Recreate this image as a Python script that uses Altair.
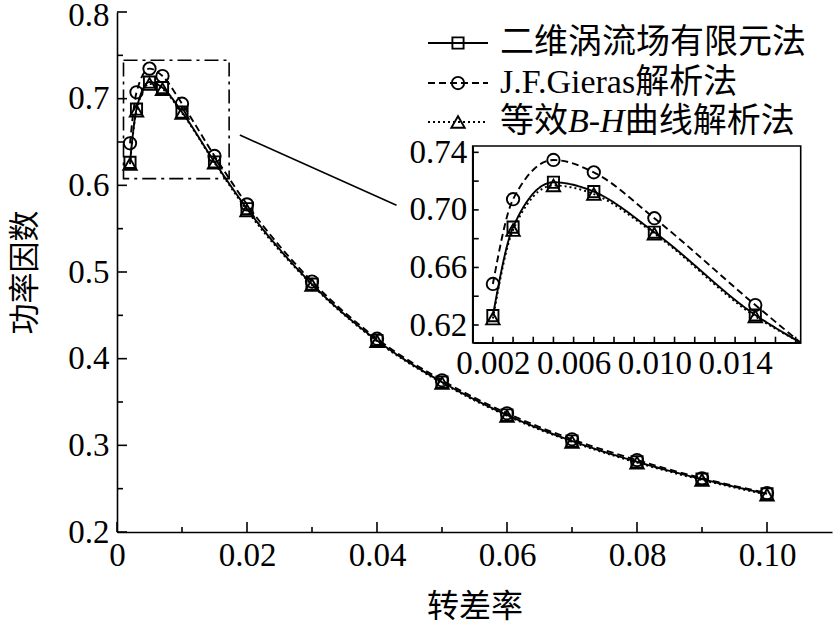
import altair as alt
import pandas as pd

# ---------------- data ----------------
slip = [0.002, 0.003, 0.005, 0.007, 0.010, 0.015, 0.02, 0.03, 0.04, 0.05, 0.06, 0.07, 0.08, 0.09, 0.10]
pf_fem = [0.6265, 0.688, 0.7192, 0.7127, 0.6845, 0.627, 0.573, 0.486, 0.421, 0.373, 0.335, 0.305, 0.281, 0.261, 0.244]
pf_gieras = [0.6485, 0.7074, 0.7347, 0.7261, 0.6942, 0.6339, 0.578, 0.489, 0.423, 0.375, 0.337, 0.307, 0.283, 0.262, 0.245]
pf_bh = [0.6245, 0.686, 0.717, 0.711, 0.6835, 0.626, 0.571, 0.485, 0.420, 0.372, 0.334, 0.304, 0.280, 0.260, 0.243]
series_names = ["二维涡流场有限元法", "J.F.Gieras解析法", "等效B-H曲线解析法"]

x_title = "转差率"
y_title = "功率因数"

main_x_domain = [0, 0.11]
main_y_domain = [0.2, 0.8]
main_x_major = [0, 0.02, 0.04, 0.06, 0.08, 0.10]
main_x_minor = [0.01, 0.03, 0.05, 0.07, 0.09]
main_y_major = [0.2, 0.3, 0.4, 0.5, 0.6, 0.7, 0.8]
main_y_minor = [0.25, 0.35, 0.45, 0.55, 0.65, 0.75]

inset_x_domain = [0.001, 0.01725]
inset_y_domain = [0.6077, 0.7444]
inset_x_labels = [0.002, 0.006, 0.010, 0.014]
inset_x_ticks = [0.002, 0.003, 0.004, 0.005, 0.006, 0.007, 0.008, 0.009, 0.010,
                 0.011, 0.012, 0.013, 0.014, 0.015, 0.016, 0.017]
inset_y_labels = [0.62, 0.66, 0.70, 0.74]
inset_y_ticks = [0.62, 0.64, 0.66, 0.68, 0.70, 0.72, 0.74]
inset_slip_limit = 0.02

connector_x = [0.0189, 0.0430]
connector_y = [0.658, 0.577]

# ---------------- layout / style ----------------
W, H = 715, 520
INSET_X = [355.7, 683.7]
INSET_Y = [330.7, 134.0]
FONT = "Liberation Serif, Noto Sans CJK SC"
LBL = 33
LEG = 34

rows = []
for name, vals in zip(series_names, [pf_fem, pf_gieras, pf_bh]):
    for s, v in zip(slip, vals):
        rows.append({"slip": s, "pf": v, "series": name})
df = pd.DataFrame(rows)

dash_scale = alt.Scale(domain=series_names, range=[[1, 0], [7, 4], [2, 3]])
shape_scale = alt.Scale(domain=series_names, range=["square", "circle", "triangle-up"])
size_scale = alt.Scale(domain=series_names, range=[125, 180, 150])


def mx():
    return alt.Scale(domain=main_x_domain, range=[0, W], nice=False, zero=False)


def my():
    return alt.Scale(domain=main_y_domain, range=[H, 0], nice=False, zero=False)


def ix():
    return alt.Scale(domain=inset_x_domain, range=INSET_X, nice=False, zero=False, clamp=True)


def iy():
    return alt.Scale(domain=inset_y_domain, range=INSET_Y, nice=False, zero=False, clamp=True)


axis_common = dict(ticks=False, grid=False, domainColor="black", domainWidth=1.6,
                   labelFont=FONT, labelFontSize=LBL, labelColor="black",
                   labelFlush=False, labelOverlap=False)

main_x_axis = alt.Axis(values=main_x_major, title=x_title, orient="bottom",
                       labelExpr="datum.value == 0 ? '0' : format(datum.value, '.2f')",
                       labelPadding=7, titleFont=FONT, titleFontSize=32, titleFontWeight="normal",
                       titleColor="black", titlePadding=19, **axis_common)
main_y_axis = alt.Axis(values=main_y_major, title=y_title, format=".1f", orient="left",
                       labelPadding=8, titleFont=FONT, titleFontSize=31, titleFontWeight="normal",
                       titleColor="black", titlePadding=26,
                       labelOffset={"condition": {"test": "datum.value >= 0.79", "value": 3}, "value": 0},
                       **axis_common)
inset_x_axis = alt.Axis(values=inset_x_labels, title=None, format=".3f", orient="bottom",
                        offset=-(H - INSET_Y[0]), labelPadding=5, **axis_common)
inset_y_axis = alt.Axis(values=inset_y_labels, title=None, format=".2f", orient="left",
                        offset=-INSET_X[0], labelPadding=6, **axis_common)

base = alt.Chart(df)

# ---------- main plot ----------
main_lines = base.mark_line(interpolate="monotone", color="black", strokeWidth=1.9).encode(
    x=alt.X("slip:Q", scale=mx(), axis=main_x_axis),
    y=alt.Y("pf:Q", scale=my(), axis=main_y_axis),
    strokeDash=alt.StrokeDash("series:N", scale=dash_scale, legend=None),
    detail="series:N",
)
main_pts = base.mark_point(filled=False, color="black", strokeWidth=1.9, opacity=1).encode(
    x=alt.X("slip:Q", scale=mx(), axis=None),
    y=alt.Y("pf:Q", scale=my(), axis=None),
    shape=alt.Shape("series:N", scale=shape_scale, legend=None),
    size=alt.Size("series:N", scale=size_scale, legend=None),
)

box_df = pd.DataFrame({"x": [inset_x_domain[0]], "x2": [inset_x_domain[1]],
                       "y": [inset_y_domain[0]], "y2": [inset_y_domain[1]]})
zoom_box = alt.Chart(box_df).mark_rect(fillOpacity=0, stroke="black", strokeWidth=1.6,
                                       strokeDash=[14, 5, 3, 5]).encode(
    x=alt.X("x:Q", scale=mx(), axis=None), x2="x2:Q",
    y=alt.Y("y:Q", scale=my(), axis=None), y2="y2:Q",
)
conn_df = pd.DataFrame({"x": [connector_x[0]], "x2": [connector_x[1]],
                        "y": [connector_y[0]], "y2": [connector_y[1]]})
connector = alt.Chart(conn_df).mark_rule(color="black", strokeWidth=1.6).encode(
    x=alt.X("x:Q", scale=mx(), axis=None), x2="x2:Q",
    y=alt.Y("y:Q", scale=my(), axis=None), y2="y2:Q",
)


def xticks(vals, scale, ybase, length):
    return alt.Chart(pd.DataFrame({"v": vals})).mark_rule(color="black", strokeWidth=1.6).encode(
        x=alt.X("v:Q", scale=scale, axis=None),
        y=alt.value(ybase), y2=alt.value(ybase - length))


def yticks(vals, scale, xbase, length):
    return alt.Chart(pd.DataFrame({"v": vals})).mark_rule(color="black", strokeWidth=1.6).encode(
        y=alt.Y("v:Q", scale=scale, axis=None),
        x=alt.value(xbase), x2=alt.value(xbase + length))


# legend (manual)
LX0, LX1, LTX = 311, 371, 383
LROWS = [31, 71, 110]
legend_layers = []
for name, ly in zip(series_names, LROWS):
    d = pd.DataFrame({"series": [name]})
    legend_layers.append(alt.Chart(d).mark_rule(color="black", strokeWidth=1.9).encode(
        x=alt.value(LX0), x2=alt.value(LX1), y=alt.value(ly), y2=alt.value(ly),
        strokeDash=alt.StrokeDash("series:N", scale=dash_scale, legend=None)))
    legend_layers.append(alt.Chart(d).mark_point(filled=False, color="black", strokeWidth=1.9,
                                                 opacity=1).encode(
        x=alt.value((LX0 + LX1) / 2), y=alt.value(ly),
        shape=alt.Shape("series:N", scale=shape_scale, legend=None),
        size=alt.Size("series:N", scale=size_scale, legend=None)))

for i in range(2):
    legend_layers.append(alt.Chart(pd.DataFrame({"t": [series_names[i]]})).mark_text(
        align="left", baseline="middle", font=FONT, fontSize=LEG, color="black").encode(
        text="t:N", x=alt.value(LTX), y=alt.value(LROWS[i])))
parts = ["等效", "B-H", "曲线解析法"]
offs = [0, 2 * LEG, 2 * LEG + 1.67 * LEG]
styles = ["normal", "italic", "normal"]
for p, o, st in zip(parts, offs, styles):
    legend_layers.append(alt.Chart(pd.DataFrame({"t": [p]})).mark_text(
        align="left", baseline="middle", font=FONT, fontSize=LEG, color="black",
        fontStyle=st).encode(text="t:N", x=alt.value(LTX + o), y=alt.value(LROWS[2])))

# ---------- inset ----------
inset_lines = base.transform_filter(f"datum.slip <= {inset_slip_limit}").mark_line(
    interpolate="monotone", color="black", strokeWidth=1.9).encode(
    x=alt.X("slip:Q", scale=ix(), axis=inset_x_axis),
    y=alt.Y("pf:Q", scale=iy(), axis=inset_y_axis),
    strokeDash=alt.StrokeDash("series:N", scale=dash_scale, legend=None),
    detail="series:N",
)
inset_pts = base.transform_filter(f"datum.slip <= {inset_x_domain[1]}").mark_point(
    filled=False, color="black", strokeWidth=1.9, opacity=1).encode(
    x=alt.X("slip:Q", scale=ix(), axis=None),
    y=alt.Y("pf:Q", scale=iy(), axis=None),
    shape=alt.Shape("series:N", scale=shape_scale, legend=None),
    size=alt.Size("series:N", scale=size_scale, legend=None),
)
inset_frame = alt.Chart(box_df).mark_rect(fillOpacity=0, stroke="black", strokeWidth=1.6).encode(
    x=alt.X("x:Q", scale=ix(), axis=None), x2="x2:Q",
    y=alt.Y("y:Q", scale=iy(), axis=None), y2="y2:Q",
)

chart = alt.layer(
    main_lines, main_pts, zoom_box, connector,
    xticks(main_x_major, mx(), H, 10), xticks(main_x_minor, mx(), H, 5),
    yticks(main_y_major, my(), 0, 10), yticks(main_y_minor, my(), 0, 6),
    inset_lines, inset_frame, inset_pts,
    xticks(inset_x_ticks, ix(), INSET_Y[0], 6),
    yticks(inset_y_ticks, iy(), INSET_X[0], 6),
    *legend_layers,
).resolve_scale(
    x="independent", y="independent"
).properties(
    width=W, height=H,
    autosize=alt.AutoSizeParams(type="none"),
    padding={"left": 117, "top": 12, "right": 1, "bottom": 91},
    background="white",
).configure_view(stroke=None)

chart.save("out.html", embed_options={"renderer": "svg", "actions": False})
